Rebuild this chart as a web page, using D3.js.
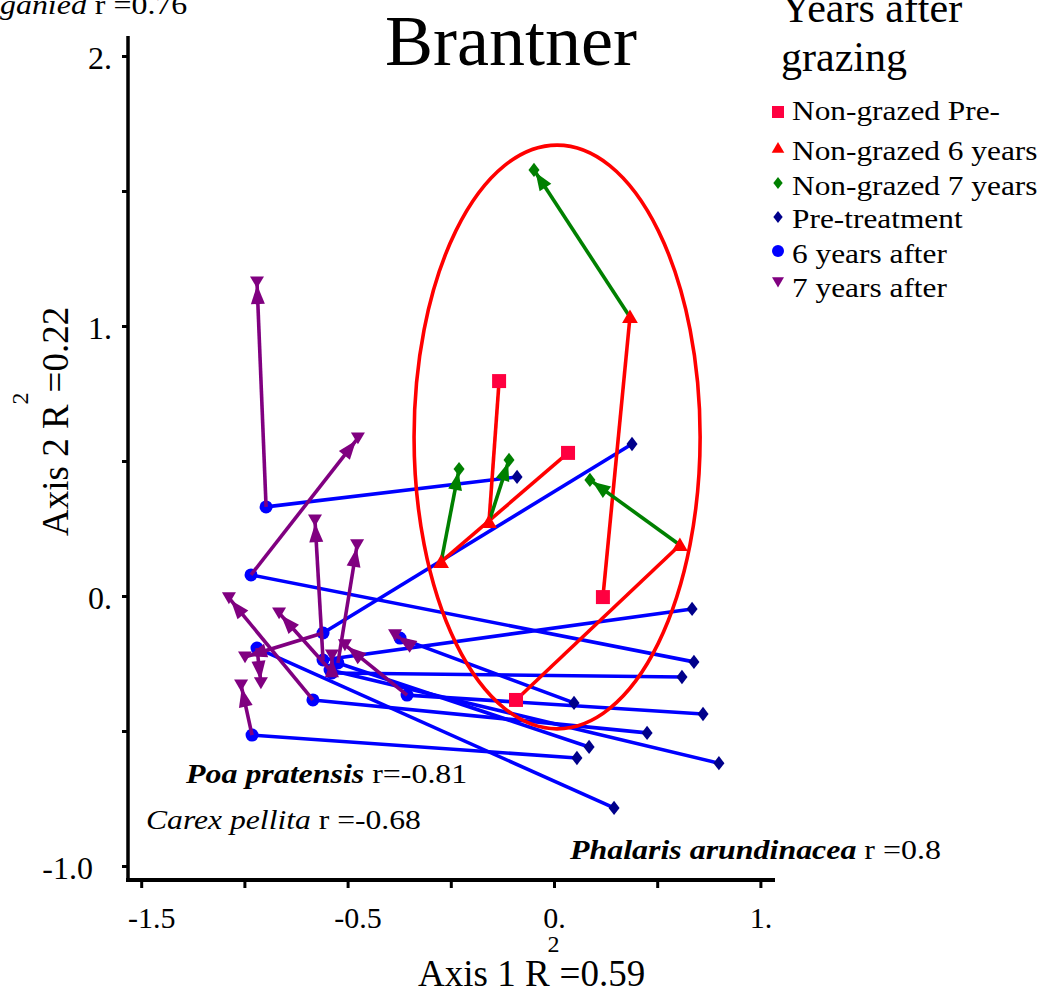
<!DOCTYPE html>
<html><head><meta charset="utf-8">
<script src="https://cdn.jsdelivr.net/npm/d3@7"></script>
<style>
body{margin:0;background:#fff}
svg{display:block}
text{font-family:"Liberation Serif","Times New Roman",serif;fill:#000}
</style>
</head><body><div id="chart"></div>
<script>
// ---- data (axis units) ----
const sites = ["A","B","C","D","E","F","G","H","I","J","K","L"];
// Pre-treatment (navy diamonds)
const preX = [-0.179, 0.678, 0.378, 0.291, 0.669, 0.170, 0.451, 0.799, 0.111, 0.722, 0.097, 0.620];
const preY = [ 0.441,-0.244, 0.563,-0.785,-0.048,-0.559,-0.507,-0.619,-0.600,-0.437,-0.396,-0.300];
// 6 years after (blue circles)
const yr6X = [-1.395,-1.468,-1.119,-1.439,-1.119,-1.047,-1.168,-1.085,-1.463,-0.712,-0.746,-1.076];
const yr6Y = [ 0.330, 0.078,-0.137,-0.193,-0.237,-0.248,-0.385,-0.274,-0.515,-0.367,-0.156,-0.285];
// 7 years after (purple down triangles)
const yr7X = [-1.439,-0.950,-1.497,-1.420,-1.158,-0.954,-1.575,-1.332,-1.516,-1.013,-0.770,-1.076];
const yr7Y = [ 1.163, 0.585,-0.226,-0.322, 0.281, 0.189,-0.007,-0.063,-0.330,-0.181,-0.144,-0.219];
// Non-grazed
const ngPreX = [0.237,-0.266, 0.068,-0.184];
const ngPreY = [-0.004, 0.796, 0.530,-0.385];
const ng6X = [0.368,-0.315,-0.547, 0.610];
const ng6Y = [1.033, 0.274, 0.126, 0.189];
const ng7X = [-0.097,-0.218,-0.460, 0.174];
const ng7Y = [ 1.578, 0.504, 0.470, 0.430];
// grouping ellipse (centre and radii, axis units)
const ellipseC = [0.015, 0.589];
const ellipseR = [0.693, 1.081];

const xTickValues = [-2,-1.5,-1,-0.5,0,0.5,1];
const xTickLabels = ["-1.5","","-0.5","","0.","","1."];
const yTickValues = [-1,-0.5,0,0.5,1,1.5,2];
const yTickLabels = ["-1.0","","0.","","1.","","2."];

const legendTitle = ["Years after","grazing"];
const legendLabels = ["Non-grazed Pre-","Non-grazed 6 years","Non-grazed 7 years","Pre-treatment","6 years after","7 years after"];
const legendShapes = ["square","triangle","diamond","diamond","circle","tridown"];
const legendColors = ["#ff0040","#ff0000","#008000","#00008b","#0000ff","#800080"];

const title = "Brantner";
const xLabel = ["Axis 1 R","2","=0.59"];
const yLabel = ["Axis 2 R","2","=0.22"];

// ---- layout ----
const W = 1052, H = 992;
const svg = d3.select("#chart").append("svg").attr("width",W).attr("height",H);

const x = d3.scaleLinear().domain([-2,1]).range([141.2,760.4]);
const y = d3.scaleLinear().domain([-1,2]).range([866,56]);

const C = {pre:"#00008b", y6:"#0000ff", y7:"#800080", ngPre:"#ff0040", ng6:"#ff0000", ng7:"#008000"};
const LW = 3.6;

function shapePath(type, cx, cy, s){
  const h = s/2;
  switch(type){
    case "square": return `M${cx-h},${cy-h}h${s}v${s}h${-s}Z`;
    case "triangle": return `M${cx},${cy-h}L${cx+h*1.05},${cy+h*0.8}L${cx-h*1.05},${cy+h*0.8}Z`;
    case "tridown": return `M${cx-h},${cy-h*0.8}L${cx+h},${cy-h*0.8}L${cx},${cy+h*0.9}Z`;
    case "diamond": return `M${cx},${cy-h*1.1}L${cx+h*0.85},${cy}L${cx},${cy+h*1.1}L${cx-h*0.85},${cy}Z`;
    case "circle": return `M${cx-h},${cy}a${h},${h} 0 1,0 ${s},0a${h},${h} 0 1,0 ${-s},0`;
  }
}
function arrowHead(x1,y1,x2,y2,len,wid,back){
  const dx=x2-x1, dy=y2-y1, d=Math.hypot(dx,dy), ux=dx/d, uy=dy/d;
  const tx=x2-ux*back, ty=y2-uy*back;
  const bx=tx-ux*len, by=ty-uy*len;
  const px=-uy*wid/2, py=ux*wid/2;
  return `M${tx},${ty}L${bx+px},${by+py}L${bx-px},${by-py}Z`;
}
// text with horizontal stretch (reference font is wider than Liberation Serif)
function stext(px,py,size,sx,parts){
  const g = svg.append("g").attr("transform",`translate(${px},${py}) scale(${sx},1)`);
  const t = g.append("text").attr("x",0).attr("y",0).attr("font-size",size);
  parts.forEach(p=>{
    const s = t.append("tspan").text(p.t);
    if(p.i) s.attr("font-style","italic");
    if(p.b) s.attr("font-weight","bold");
  });
  return t;
}

// ---- axes ----
const gx = svg.append("g").attr("transform","translate(0,880)")
  .call(d3.axisBottom(x).tickValues(xTickValues).tickSize(8).tickPadding(19)
    .tickFormat((d,i)=>xTickLabels[i]));
gx.select(".domain").remove();
gx.selectAll(".tick line").attr("stroke","#000").attr("stroke-width",3);
gx.selectAll(".tick text").attr("font-family","Liberation Serif").attr("font-size",30).attr("fill","#000")
  .attr("dx",(d,i)=>xTickLabels[i].startsWith("-")?10:0);
svg.append("line").attr("x1",126).attr("x2",775).attr("y1",880).attr("y2",880).attr("stroke","#000").attr("stroke-width",4);

const gy = svg.append("g").attr("transform","translate(128,0)")
  .call(d3.axisLeft(y).tickValues(yTickValues).tickSize(6).tickPadding(10)
    .tickFormat((d,i)=>yTickLabels[i]));
gy.select(".domain").remove();
gy.selectAll(".tick line").attr("stroke","#000").attr("stroke-width",3);
gy.selectAll(".tick text").attr("font-family","Liberation Serif").attr("font-size",32).attr("fill","#000")
  .attr("dy","0.4em").attr("dx",(d,i)=>yTickLabels[i].length>2?-19:0);
svg.append("line").attr("x1",128).attr("x2",128).attr("y1",36).attr("y2",882).attr("stroke","#000").attr("stroke-width",3.5);

// ---- blue lines pre -> 6 yrs ----
const plot = svg.append("g");
sites.forEach((s,i)=>{
  plot.append("line").attr("x1",x(preX[i])).attr("y1",y(preY[i])).attr("x2",x(yr6X[i])).attr("y2",y(yr6Y[i]))
    .attr("stroke",C.y6).attr("stroke-width",LW);
});
sites.forEach((s,i)=>{
  plot.append("path").attr("d",shapePath("diamond",x(preX[i]),y(preY[i]),13)).attr("fill",C.pre);
  plot.append("path").attr("d",shapePath("circle",x(yr6X[i]),y(yr6Y[i]),13)).attr("fill",C.y6);
});
// purple arrows 6 -> 7 yrs
sites.forEach((s,i)=>{
  const x1=x(yr6X[i]), y1=y(yr6Y[i]), x2=x(yr7X[i]), y2=y(yr7Y[i]);
  plot.append("line").attr("x1",x1).attr("y1",y1).attr("x2",x2).attr("y2",y2).attr("stroke",C.y7).attr("stroke-width",LW);
  plot.append("path").attr("d",arrowHead(x1,y1,x2,y2,19,14,3)).attr("fill",C.y7);
  plot.append("path").attr("d",shapePath("tridown",x2,y2,14)).attr("fill",C.y7);
});

// ellipse
svg.append("ellipse").attr("cx",x(ellipseC[0])).attr("cy",y(ellipseC[1]))
  .attr("rx",x(ellipseR[0])-x(0)).attr("ry",y(0)-y(ellipseR[1]))
  .attr("fill","none").attr("stroke","#ff0000").attr("stroke-width",3.6);

// non-grazed
ngPreX.forEach((v,i)=>{
  svg.append("line").attr("x1",x(ngPreX[i])).attr("y1",y(ngPreY[i])).attr("x2",x(ng6X[i])).attr("y2",y(ng6Y[i]))
    .attr("stroke",C.ng6).attr("stroke-width",LW);
});
ngPreX.forEach((v,i)=>{
  const x1=x(ng6X[i]), y1=y(ng6Y[i]), x2=x(ng7X[i]), y2=y(ng7Y[i]);
  svg.append("line").attr("x1",x1).attr("y1",y1).attr("x2",x2).attr("y2",y2).attr("stroke",C.ng7).attr("stroke-width",LW);
  svg.append("path").attr("d",arrowHead(x1,y1,x2,y2,18,14,3)).attr("fill",C.ng7);
});
ngPreX.forEach((v,i)=>{
  svg.append("path").attr("d",shapePath("square",x(ngPreX[i]),y(ngPreY[i]),14)).attr("fill",C.ngPre);
  svg.append("path").attr("d",shapePath("triangle",x(ng6X[i]),y(ng6Y[i]),15)).attr("fill",C.ng6);
  svg.append("path").attr("d",shapePath("diamond",x(ng7X[i]),y(ng7Y[i]),13)).attr("fill",C.ng7);
});

// ---- texts ----
svg.append("text").attr("x",511).attr("y",65).attr("text-anchor","middle").attr("font-size",72).text(title);

stext(0,14,28,1.14,[{t:"ganied",i:true},{t:" r =0.76"}]);
stext(186,783,28,1.14,[{t:"Poa pratensis",i:true,b:true},{t:" r=-0.81"}]);
stext(146,829,28,1.13,[{t:"Carex pellita",i:true},{t:" r =-0.68"}]);
stext(570,859,28,1.14,[{t:"Phalaris arundinacea",i:true,b:true},{t:" r =0.8"}]);

// axis titles
const xl = svg.append("text").attr("x",418).attr("y",986).attr("font-size",37);
xl.append("tspan").text(xLabel[0]);
xl.append("tspan").attr("font-size",24).attr("dy",-34).attr("dx",-2).text(xLabel[1]);
xl.append("tspan").attr("dy",34).text(xLabel[2]);

const yl = svg.append("text").attr("transform","translate(68,536) rotate(-90)").attr("font-size",37);
yl.append("tspan").text(yLabel[0]);
yl.append("tspan").attr("font-size",24).attr("dy",-40).text(yLabel[1]);
yl.append("tspan").attr("dy",40).text(yLabel[2]);

// legend
legendTitle.forEach((t,i)=>{
  svg.append("text").attr("x",781).attr("y",22+i*49).attr("font-size",42).text(t);
});
const legY = [112,148,183,217,251,282];
const legBase = [120,160,195,228,263,297];
legendLabels.forEach((t,i)=>{
  const sz = legendShapes[i]==="circle"?12:(legendShapes[i]==="diamond"?11:12);
  svg.append("path").attr("d",shapePath(legendShapes[i],778,legY[i],sz)).attr("fill",legendColors[i]);
  stext(792,legBase[i],28,1.12,[{t:t}]);
});
</script>
</body></html>
